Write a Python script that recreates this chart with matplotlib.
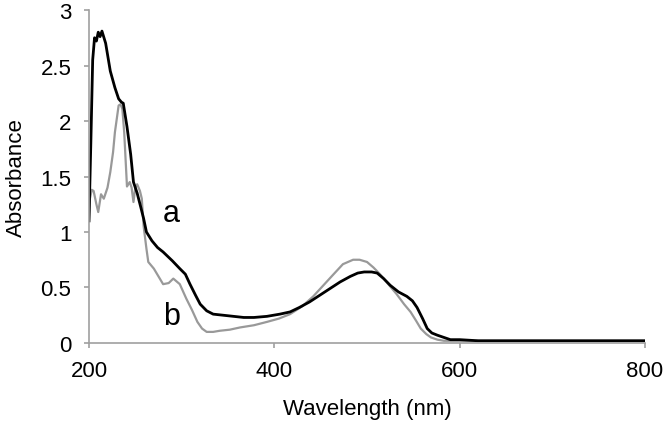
import matplotlib.pyplot as plt

# curve a (black)
wl_a = [200, 202, 204, 206, 208, 210, 212, 214, 218, 223, 228, 232, 235, 237, 241, 245,
        248, 252, 256, 259, 262, 268, 274, 280, 290, 298, 304, 309, 315, 320, 327, 334,
        345, 356, 367, 378, 392, 406, 417, 427, 438, 449, 460, 471, 482, 490, 497, 505,
        511, 518, 525, 534, 543, 549, 554, 560, 565, 570, 576, 583, 590, 600, 620, 650,
        680, 710, 740, 770, 800]
abs_a = [1.10, 1.80, 2.55, 2.75, 2.72, 2.80, 2.76, 2.81, 2.70, 2.45, 2.30, 2.20, 2.17, 2.16, 1.95, 1.70,
         1.45, 1.35, 1.22, 1.12, 1.00, 0.92, 0.86, 0.82, 0.74, 0.67, 0.62, 0.53, 0.43, 0.35, 0.29, 0.26,
         0.25, 0.24, 0.23, 0.23, 0.24, 0.26, 0.28, 0.32, 0.37, 0.43, 0.49, 0.55, 0.60, 0.63, 0.64, 0.64,
         0.63, 0.58, 0.52, 0.46, 0.42, 0.38, 0.32, 0.22, 0.13, 0.09, 0.07, 0.05, 0.03, 0.03, 0.02, 0.02,
         0.02, 0.02, 0.02, 0.02, 0.02]

# curve b (grey)
wl_b = [200, 201, 203, 205, 208, 210, 213, 216, 220, 223, 226, 228, 230, 232, 234, 236,
        238, 241, 244, 246, 248, 250, 252, 255, 257, 259, 262, 264, 270, 275, 280, 286,
        291, 298, 305, 311, 317, 322, 327, 334, 341, 352, 363, 378, 392, 405, 417, 430,
        442, 453, 464, 474, 485, 492, 500, 507, 514, 523, 532, 540, 547, 553, 558, 564,
        569, 576, 583, 600, 650, 700, 750, 800]
abs_b = [1.10, 1.30, 1.38, 1.37, 1.25, 1.18, 1.34, 1.30, 1.40, 1.54, 1.72, 1.90, 2.02, 2.14, 2.15, 2.11,
         1.90, 1.41, 1.45, 1.40, 1.27, 1.40, 1.43, 1.37, 1.30, 1.05, 0.85, 0.73, 0.67, 0.60, 0.53, 0.54,
         0.58, 0.53, 0.40, 0.30, 0.19, 0.13, 0.10, 0.10, 0.11, 0.12, 0.14, 0.16, 0.19, 0.22, 0.26, 0.33,
         0.42, 0.52, 0.62, 0.71, 0.75, 0.75, 0.73, 0.68, 0.62, 0.53, 0.44, 0.35, 0.28, 0.20, 0.13, 0.08,
         0.05, 0.03, 0.02, 0.02, 0.02, 0.02, 0.02, 0.02]

plt.rcParams['font.family'] = ['Liberation Sans', 'DejaVu Sans']

fig = plt.figure(figsize=(6.66, 4.27), dpi=100)
ax = fig.add_axes([0.1336, 0.1944, 0.8349, 0.7798])

ax.plot(wl_b, abs_b, color='#999999', lw=1.6)
ax.plot(wl_a, abs_a, color='black', lw=2.0)

ax.text(289, 1.10, 'a', fontsize=22, ha='center', va='baseline')
ax.text(289, 0.17, 'b', fontsize=22, ha='center', va='baseline')

ax.set_xlim(200, 800)
ax.set_ylim(0, 3)
ax.set_xticks([200, 400, 600, 800])
ax.set_yticks([0, 0.5, 1, 1.5, 2, 2.5, 3])
ax.set_yticklabels(['0', '0.5', '1', '1.5', '2', '2.5', '3'])
ax.set_xlabel('Wavelength (nm)', fontsize=16, labelpad=12)
ax.set_ylabel('Absorbance', fontsize=16, labelpad=10)

for s in ['top', 'right']:
    ax.spines[s].set_visible(False)
for s in ['left', 'bottom']:
    ax.spines[s].set_color('#a0a0a0')
    ax.spines[s].set_linewidth(1.2)
ax.tick_params(direction='out', length=3.6, width=1.2, color='#a0a0a0', labelsize=16, pad=9)

fig.savefig('out.png', dpi=100)
